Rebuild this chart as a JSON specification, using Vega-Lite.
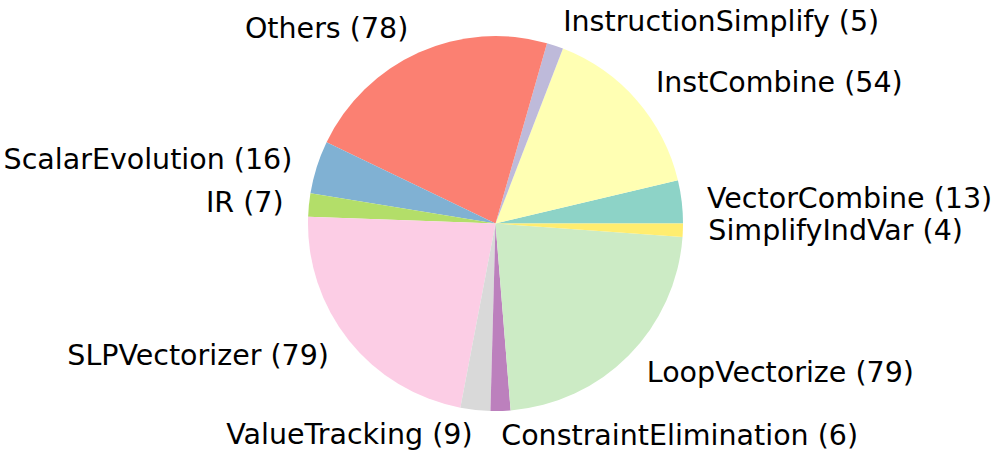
{
  "$schema": "https://vega.github.io/schema/vega-lite/v6.json",
  "width": 991,
  "height": 447,
  "autosize": "none",
  "padding": {"left": 0, "top": 0, "right": 6, "bottom": 11},
  "background": "white",
  "view": {"stroke": null},
  "data": {
    "values": [
      {"pass": "VectorCombine", "count": 13},
      {"pass": "InstCombine", "count": 54},
      {"pass": "InstructionSimplify", "count": 5},
      {"pass": "Others", "count": 78},
      {"pass": "ScalarEvolution", "count": 16},
      {"pass": "IR", "count": 7},
      {"pass": "SLPVectorizer", "count": 79},
      {"pass": "ValueTracking", "count": 9},
      {"pass": "ConstraintElimination", "count": 6},
      {"pass": "LoopVectorize", "count": 79},
      {"pass": "SimplifyIndVar", "count": 4}
    ]
  },
  "transform": [
    {"window": [{"op": "row_number", "as": "idx"}, {"op": "sum", "field": "count", "as": "cum"}], "frame": [null, 0]},
    {"joinaggregate": [{"op": "sum", "field": "count", "as": "total"}]},
    {"calculate": "cos(2 * PI * (datum.cum - datum.count / 2) / datum.total)", "as": "cx"},
    {"calculate": "datum.pass + ' (' + datum.count + ')'", "as": "label"},
    {"calculate": "datum.cx < 0 ? datum.label : ''", "as": "leftLabel"},
    {"calculate": "datum.cx >= 0 ? datum.label : ''", "as": "rightLabel"}
  ],
  "encoding": {
    "theta": {"field": "count", "type": "quantitative", "stack": true, "scale": {"range": [1.5707963, -4.712389]}},
    "order": {"field": "idx", "type": "quantitative", "sort": "ascending"}
  },
  "layer": [
    {
      "mark": {"type": "arc", "outerRadius": 187.5},
      "encoding": {
        "color": {
          "field": "pass",
          "type": "nominal",
          "legend": null,
          "scale": {
            "domain": ["VectorCombine", "InstCombine", "InstructionSimplify", "Others", "ScalarEvolution", "IR", "SLPVectorizer", "ValueTracking", "ConstraintElimination", "LoopVectorize", "SimplifyIndVar"],
            "range": ["#8dd3c7", "#ffffb3", "#bebada", "#fb8072", "#80b1d3", "#b3de69", "#fccde5", "#d9d9d9", "#bc80bd", "#ccebc5", "#ffed6f"]
          }
        }
      }
    },
    {
      "mark": {"type": "text", "radius": 213, "align": "right", "baseline": "middle", "font": "DejaVu Sans", "fontSize": 28.5, "color": "black"},
      "encoding": {"text": {"field": "leftLabel"}}
    },
    {
      "mark": {"type": "text", "radius": 213, "align": "left", "baseline": "middle", "font": "DejaVu Sans", "fontSize": 28.5, "color": "black"},
      "encoding": {"text": {"field": "rightLabel"}}
    }
  ]
}
